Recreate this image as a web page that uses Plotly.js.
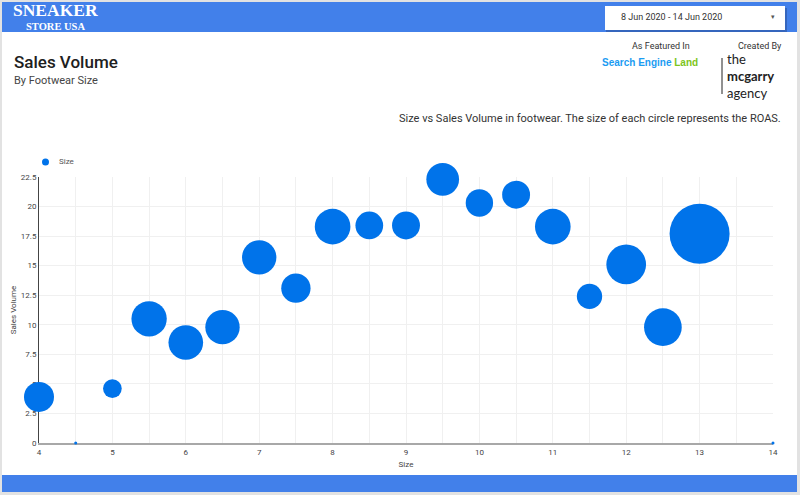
<!DOCTYPE html>
<html>
<head>
<meta charset="utf-8">
<script src="https://cdn.plot.ly/plotly-3.0.1.min.js"></script>
<style>html,body{margin:0;padding:0;background:#fff;}#chart{width:800px;height:495px;}</style>
</head>
<body>
<div id="chart"></div>
<script>
// ---- Data ----
var shoeSizes   = [4, 4.5, 5, 5.5, 6, 6.5, 7, 7.5, 8, 8.5, 9, 9.5, 10, 10.5, 11, 11.5, 12, 12.5, 13, 14];
var salesVolume = [3.9, 0, 4.6, 10.5, 8.5, 9.8, 15.7, 13.1, 18.3, 18.4, 18.4, 22.3, 20.3, 21.0, 18.3, 12.4, 15.1, 9.8, 17.7, 0];
var roas        = [9.0, 0.09, 3.5, 12.5, 12.0, 11.8, 11.8, 8.6, 12.7, 7.7, 7.8, 10.7, 7.5, 7.8, 12.7, 6.4, 15.8, 14.2, 36.0, 0.09];
var seriesName  = 'Size';

// ---- Layout helpers: page pixels -> paper coords ----
var L = 39, R = 773, T = 177, B = 443;
function xp(px){ return (px - L) / (R - L); }
function yp(py){ return (B - py) / (B - T); }
function rect(x0, y0, x1, y1, fill, line, layer){
  return {type:'rect', xref:'paper', yref:'paper', x0:xp(x0), x1:xp(x1), y0:yp(y1), y1:yp(y0),
          fillcolor:fill, line:line || {width:0}, layer:layer || 'below'};
}
function txt(text, x, y, xa, size, color, extra){
  var a = {text:text, xref:'paper', yref:'paper', x:xp(x), y:yp(y), xanchor:xa, yanchor:'middle',
           showarrow:false, font:{family:'Roboto, sans-serif', size:size, color:color}};
  if (extra) { for (var k in extra) { if (k === 'font') { for (var f in extra.font) a.font[f] = extra.font[f]; } else a[k] = extra[k]; } }
  return a;
}

var bubbles = {
  type:'scatter', mode:'markers', name:seriesName, showlegend:false,
  x:shoeSizes, y:salesVolume, cliponaxis:false,
  marker:{color:'#0073ea', size:roas, sizemode:'area', sizeref:0.02, sizemin:0, opacity:1, line:{width:0}},
  hoverinfo:'x+y'
};

var layout = {
  width:800, height:495,
  margin:{l:L, r:800-R, t:T, b:495-B, pad:0},
  paper_bgcolor:'#ffffff', plot_bgcolor:'#ffffff',
  font:{family:'Roboto, sans-serif', size:8, color:'#555'},
  xaxis:{range:[4,14], dtick:1, tick0:4, showgrid:true, gridcolor:'#f0f0f0', gridwidth:1,
         minor:{dtick:0.5, showgrid:true, gridcolor:'#f0f0f0', gridwidth:1},
         zeroline:false, showline:true, linecolor:'#a8a8a8', linewidth:2, ticks:'',
         layer:'below traces',
         tickfont:{size:8, color:'#444'},
         title:{text:'Size', font:{size:8, color:'#444'}, standoff:6}},
  yaxis:{range:[0,22.5], dtick:2.5, tick0:0, showgrid:true, gridcolor:'#f0f0f0', gridwidth:1,
         zeroline:false, showline:true, linecolor:'#444', linewidth:1, ticks:'',
         layer:'below traces',
         tickfont:{size:8, color:'#444'},
         title:{text:'Sales Volume', font:{size:8, color:'#444'}, standoff:2}},
  showlegend:false,
  shapes:[
    rect(0, 0, 800, 32, '#4280ea'),
    rect(0, 475, 800, 495, '#4280ea'),
    rect(0, 0, 2, 495, '#e2e2e2'),
    rect(797, 0, 800, 495, '#e2e2e2'),
    rect(0, 0, 800, 2, '#e2e2e2'),
    rect(0, 492, 800, 495, '#e2e2e2'),
    rect(606, 8, 787, 32, '#3566bd'),
    rect(605, 6, 785, 30, '#ffffff'),
    // legend marker
    {type:'circle', xref:'paper', yref:'paper', x0:xp(42), x1:xp(49), y0:yp(165.5), y1:yp(158.5),
     fillcolor:'#0073ea', line:{width:0}, layer:'above'},
    {type:'line', xref:'paper', yref:'paper', x0:xp(722), x1:xp(722), y0:yp(58), y1:yp(94), line:{color:'#222', width:1}, layer:'above'}
  ],
  annotations:[
    txt('SNEAKER', 55, 10, 'center', 17.5, '#ffffff', {font:{family:'Liberation Serif, serif', weight:700}}),
    txt('STORE USA', 55, 26, 'center', 10.5, '#ffffff', {font:{family:'Liberation Serif, serif', weight:700}}),
    txt('8 Jun 2020 - 14 Jun 2020', 619, 17, 'left', 9, '#333'),
    txt('▾', 773, 17, 'center', 7, '#555'),
    txt('Sales Volume', 12, 62, 'left', 17, '#202020', {font:{weight:500}}),
    txt('By Footwear Size', 12, 80, 'left', 11, '#444'),
    txt('As Featured In', 692, 46, 'right', 9, '#333'),
    txt('Created By', 784, 46, 'right', 9, '#333'),
    txt('<span style="color:#1b9cf2">Search Engine </span><span style="color:#7cc520">Land</span>', 650, 62, 'center', 10,
        '#1b9cf2', {font:{family:'Liberation Sans Narrow, Liberation Sans, sans-serif', weight:700}}),
    txt('the<br><b>mcgarry</b><br>agency', 725, 76, 'left', 13, '#222', {align:'left', font:{family:'Lato, sans-serif'}}),
    txt(seriesName, 57, 162, 'left', 8, '#555'),
    txt('Size vs Sales Volume in footwear. The size of each circle represents the ROAS.', 783, 119, 'right', 11, '#333')
  ]
};

Plotly.newPlot('chart', [bubbles], layout, {displayModeBar:false, staticPlot:true});
</script>
</body>
</html>
